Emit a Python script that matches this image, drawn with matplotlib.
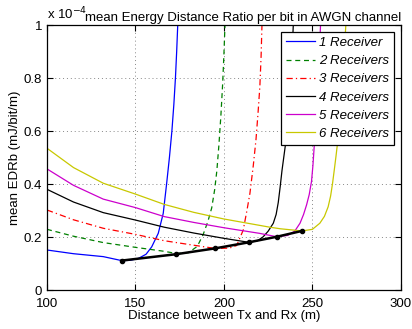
import matplotlib
matplotlib.use('Agg')
import matplotlib.pyplot as plt

plt.rcParams['font.family'] = ['Liberation Sans', 'DejaVu Sans']

# distance (m) and mean EDRb (x 1e-4 mJ/bit/m)
d1 = [100, 115, 131.8, 142.2, 147, 151.6, 156, 159.2, 162.9, 165.7, 167.6, 169.2, 170.6, 171.7, 172.6, 173.3, 173.9]
e1 = [0.151, 0.137, 0.126, 0.111, 0.112, 0.119, 0.135, 0.163, 0.214, 0.289, 0.40, 0.5, 0.6, 0.7, 0.8, 0.9, 1.0]

d2 = [100, 115, 131.8, 150, 166.3, 172.9, 180, 185, 188.3, 191, 193.1, 194.8, 196, 197.2, 198.3, 199.3, 200, 200.6]
e2 = [0.229, 0.203, 0.179, 0.161, 0.146, 0.138, 0.141, 0.165, 0.21, 0.26, 0.31, 0.38, 0.45, 0.55, 0.66, 0.78, 0.89, 1.0]

d3 = [100, 115, 131.8, 150, 166.3, 180, 194.9, 203, 207.2, 210.9, 213, 214.7, 216.6, 218.1, 219.3, 220.3, 221, 221.5]
e3 = [0.302, 0.265, 0.233, 0.21, 0.186, 0.172, 0.157, 0.158, 0.168, 0.226, 0.3, 0.365, 0.47, 0.566, 0.67, 0.767, 0.88, 1.0]

d4 = [100, 115, 131.8, 150, 166.3, 183, 200, 214.1, 219, 222.2, 225, 227.9, 229.5, 230.7, 231.8, 232.8, 234, 235.4,
      236.6, 237.6, 238.5, 239.2]
e4 = [0.38, 0.332, 0.292, 0.264, 0.237, 0.215, 0.195, 0.18, 0.186, 0.201, 0.222, 0.252, 0.285, 0.33, 0.39, 0.45, 0.51, 0.58,
      0.68, 0.78, 0.89, 1.0]

d5 = [100, 115, 131.8, 150, 166.3, 183, 200, 220, 229.9, 236, 240, 243, 245, 246.7, 248.2, 249.5, 250.3, 251, 251.8,
      252.6, 253.5, 254.6]
e5 = [0.457, 0.395, 0.343, 0.311, 0.277, 0.255, 0.235, 0.214, 0.201, 0.206, 0.222, 0.252, 0.285, 0.321, 0.36, 0.41, 0.47,
      0.54, 0.62, 0.72, 0.83, 1.0]

d6 = [100, 115, 131.8, 150, 166.3, 183, 200, 226, 232, 244.1, 250, 254.2, 256.8, 258.9, 260.3, 261.4, 262.4, 263.3,
      264.3, 265.3, 266.3, 267.3, 268.1, 268.9]
e6 = [0.535, 0.462, 0.403, 0.362, 0.323, 0.293, 0.268, 0.237, 0.231, 0.223, 0.229, 0.252, 0.278, 0.314, 0.355, 0.403,
      0.455, 0.503, 0.56, 0.64, 0.73, 0.82, 0.91, 1.0]

# minimum of each curve
d_min = [142.2, 172.9, 194.9, 214.1, 229.9, 244.1]
e_min = [0.111, 0.135, 0.157, 0.180, 0.201, 0.223]

labels = ['1 Receiver', '2 Receivers', '3 Receivers', '4 Receivers', '5 Receivers', '6 Receivers']

fig = plt.figure(figsize=(4.12, 3.29), dpi=100)
ax = fig.add_axes([0.114, 0.1185, 0.859, 0.8055])

ax.plot(d1, e1, color='#0000ff', lw=0.9, label=labels[0])
ax.plot(d2, e2, color='#008000', lw=0.9, ls=(0, (4, 3)), label=labels[1])
ax.plot(d3, e3, color='#ff0000', lw=0.9, ls=(0, (5, 2.5, 1, 2.5)), label=labels[2])
ax.plot(d4, e4, color='k', lw=0.9, label=labels[3])
ax.plot(d5, e5, color='#cc00cc', lw=0.9, label=labels[4])
ax.plot(d6, e6, color='#c8c800', lw=0.9, label=labels[5])
ax.plot(d_min, e_min, color='k', lw=1.8, marker='o', ms=3)

ax.set_xlim(100, 300)
ax.set_ylim(0, 1)
ax.set_xticks([100, 150, 200, 250, 300])
ax.set_yticks([0, 0.2, 0.4, 0.6, 0.8, 1])
ax.set_yticklabels(['0', '0.2', '0.4', '0.6', '0.8', '1'])
ax.tick_params(direction='in', top=True, right=True, labelsize=9.5, length=4, width=0.8)
ax.tick_params(axis='x', pad=6)
ax.grid(True, ls=(0, (1, 3)), color='#888888', lw=0.7)
for s in ax.spines.values():
    s.set_linewidth(0.9)

ax.set_xlabel('Distance between Tx and Rx (m)', fontsize=9.5, labelpad=0)
ax.set_ylabel('mean EDRb (mJ/bit/m)', fontsize=9.5, labelpad=2)
ax.set_title('mean Energy Distance Ratio per bit in AWGN channel', fontsize=9.5, loc='right', pad=3)
ax.text(0.0, 1.012, r'x 10$^{-4}$', transform=ax.transAxes, fontsize=9.5, ha='left', va='bottom')

leg = ax.legend(loc='upper right', prop={'style': 'italic', 'size': 9.5},
                fancybox=False, edgecolor='k', framealpha=1, handlelength=2.2,
                borderaxespad=0.5, labelspacing=0.45, handletextpad=0.3, borderpad=0.4)
leg.get_frame().set_linewidth(0.9)

fig.savefig('out.png', dpi=100)
